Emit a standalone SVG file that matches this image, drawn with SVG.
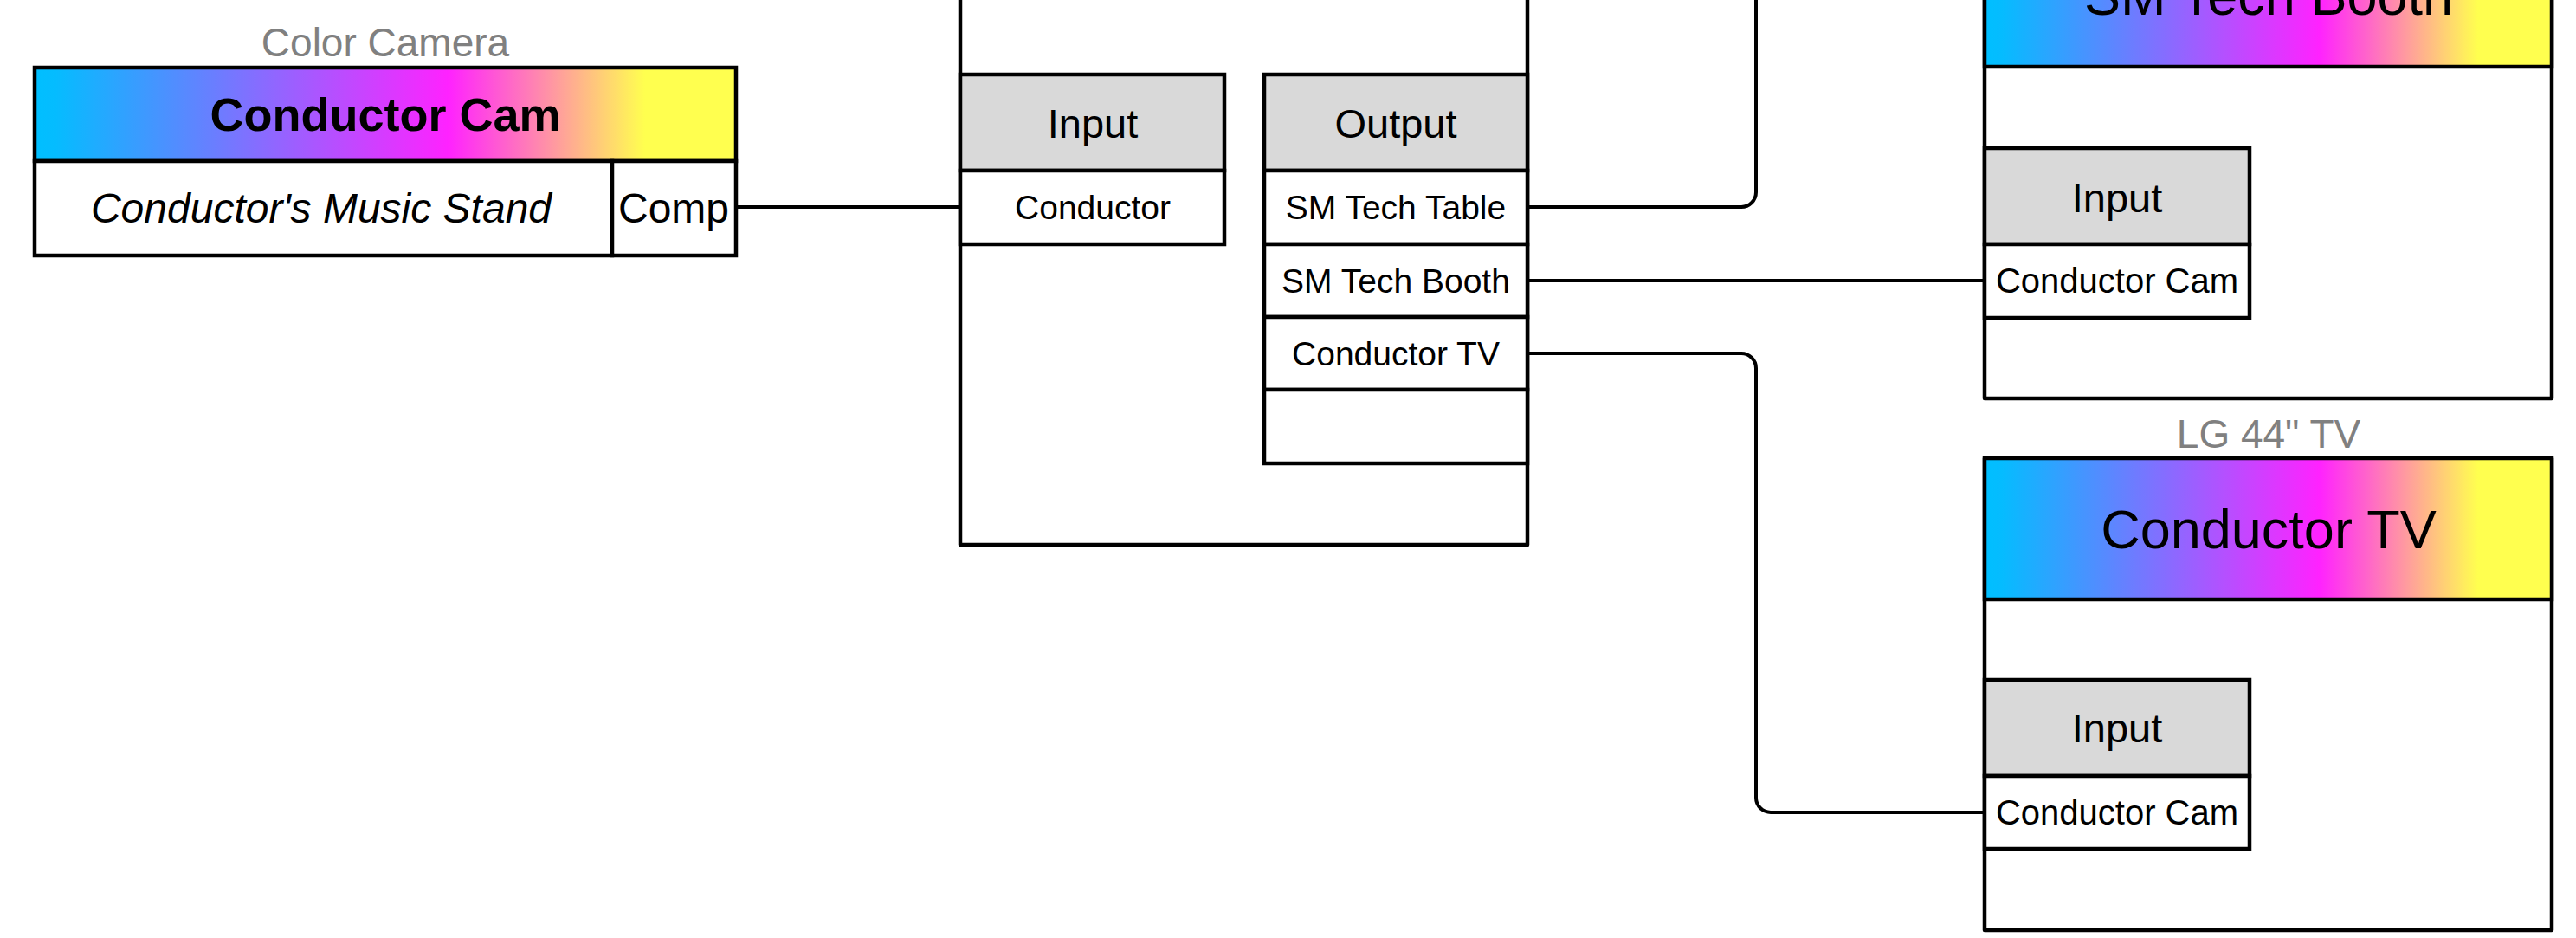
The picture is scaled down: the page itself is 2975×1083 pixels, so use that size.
<svg xmlns="http://www.w3.org/2000/svg" width="2975" height="1083" viewBox="0 0 2975 1083">
<defs>
<linearGradient id="rainbow" x1="0" y1="0" x2="1" y2="0">
<stop offset="0" stop-color="#00BFFF"/>
<stop offset="0.03" stop-color="#05BCFF"/>
<stop offset="0.59" stop-color="#FF22FF"/>
<stop offset="0.87" stop-color="#FFFF4F"/>
<stop offset="1" stop-color="#FFFF4F"/>
</linearGradient>
<style>
.box{fill:#FFFFFF;stroke:#000;stroke-width:4.5;stroke-linejoin:round}
.grad{fill:url(#rainbow);stroke:#000;stroke-width:4.5}
.hdr{fill:#D9D9D9;stroke:#000;stroke-width:4.5}
.cell{fill:#FFFFFF;stroke:#000;stroke-width:4.5}
.wire{fill:none;stroke:#000;stroke-width:4}
text{font-family:"Liberation Sans",Arial,sans-serif;text-anchor:middle;fill:#000}
.lbl{font-size:46px;fill:#808080}
.title{font-size:63px}
.port{font-size:47px}
.row{font-size:39px}
</style>
</defs>
<rect width="2975" height="1083" fill="#FFFFFF"/>

<g id="connectors">
<path class="wire" d="M850,239 H1109"/>
<path class="wire" d="M1764,239 H2011 A17,17 0 0 0 2028,222 V-20"/>
<path class="wire" d="M1764,324 H2292"/>
<path class="wire" d="M1764,408 H2011 A17,17 0 0 1 2028,425 V921 A17,17 0 0 0 2045,938 H2292"/>
</g>

<g id="conductor-cam">
<text class="lbl" x="445" y="65">Color Camera</text>
<rect class="grad" x="40" y="78" width="810" height="108"/>
<rect class="cell" x="40" y="186" width="667" height="109"/>
<rect class="cell" x="707" y="186" width="143" height="109"/>
<text x="445" y="151" style="font-size:54px;font-weight:bold">Conductor Cam</text>
<text x="371" y="257" style="font-size:48px;font-style:italic">Conductor's Music Stand</text>
<text x="778" y="257" style="font-size:48px">Comp</text>
</g>

<g id="mixer">
<rect class="box" x="1109" y="-200" width="655" height="829"/>
<g id="mixer-input">
<rect class="hdr" x="1109" y="86" width="305" height="111"/>
<rect class="cell" x="1109" y="197" width="305" height="85"/>
<text class="port" x="1262" y="159">Input</text>
<text class="row" x="1262" y="253">Conductor</text>
</g>
<g id="mixer-output">
<rect class="hdr" x="1460" y="86" width="304" height="111"/>
<rect class="cell" x="1460" y="197" width="304" height="85"/>
<rect class="cell" x="1460" y="282" width="304" height="84"/>
<rect class="cell" x="1460" y="366" width="304" height="84"/>
<rect class="cell" x="1460" y="450" width="304" height="85"/>
<text class="port" x="1612" y="159">Output</text>
<text class="row" x="1612" y="253">SM Tech Table</text>
<text class="row" x="1612" y="338">SM Tech Booth</text>
<text class="row" x="1612" y="422">Conductor TV</text>
</g>
</g>

<g id="sm-tech-booth">
<rect class="box" x="2292" y="-86" width="655" height="546"/>
<rect class="grad" x="2292" y="-86" width="655" height="163"/>
<text class="title" x="2620" y="17">SM Tech Booth</text>
<rect class="hdr" x="2292" y="171" width="306" height="111"/>
<rect class="cell" x="2292" y="282" width="306" height="85"/>
<text class="port" x="2445" y="245">Input</text>
<text class="row" x="2445" y="338" style="font-size:40px">Conductor Cam</text>
</g>

<g id="conductor-tv">
<text class="lbl" x="2620" y="517">LG 44" TV</text>
<rect class="box" x="2292" y="529" width="655" height="545"/>
<rect class="grad" x="2292" y="529" width="655" height="163"/>
<text class="title" x="2620" y="633">Conductor TV</text>
<rect class="hdr" x="2292" y="785" width="306" height="111"/>
<rect class="cell" x="2292" y="896" width="306" height="84"/>
<text class="port" x="2445" y="857">Input</text>
<text class="row" x="2445" y="952" style="font-size:40px">Conductor Cam</text>
</g>
</svg>
